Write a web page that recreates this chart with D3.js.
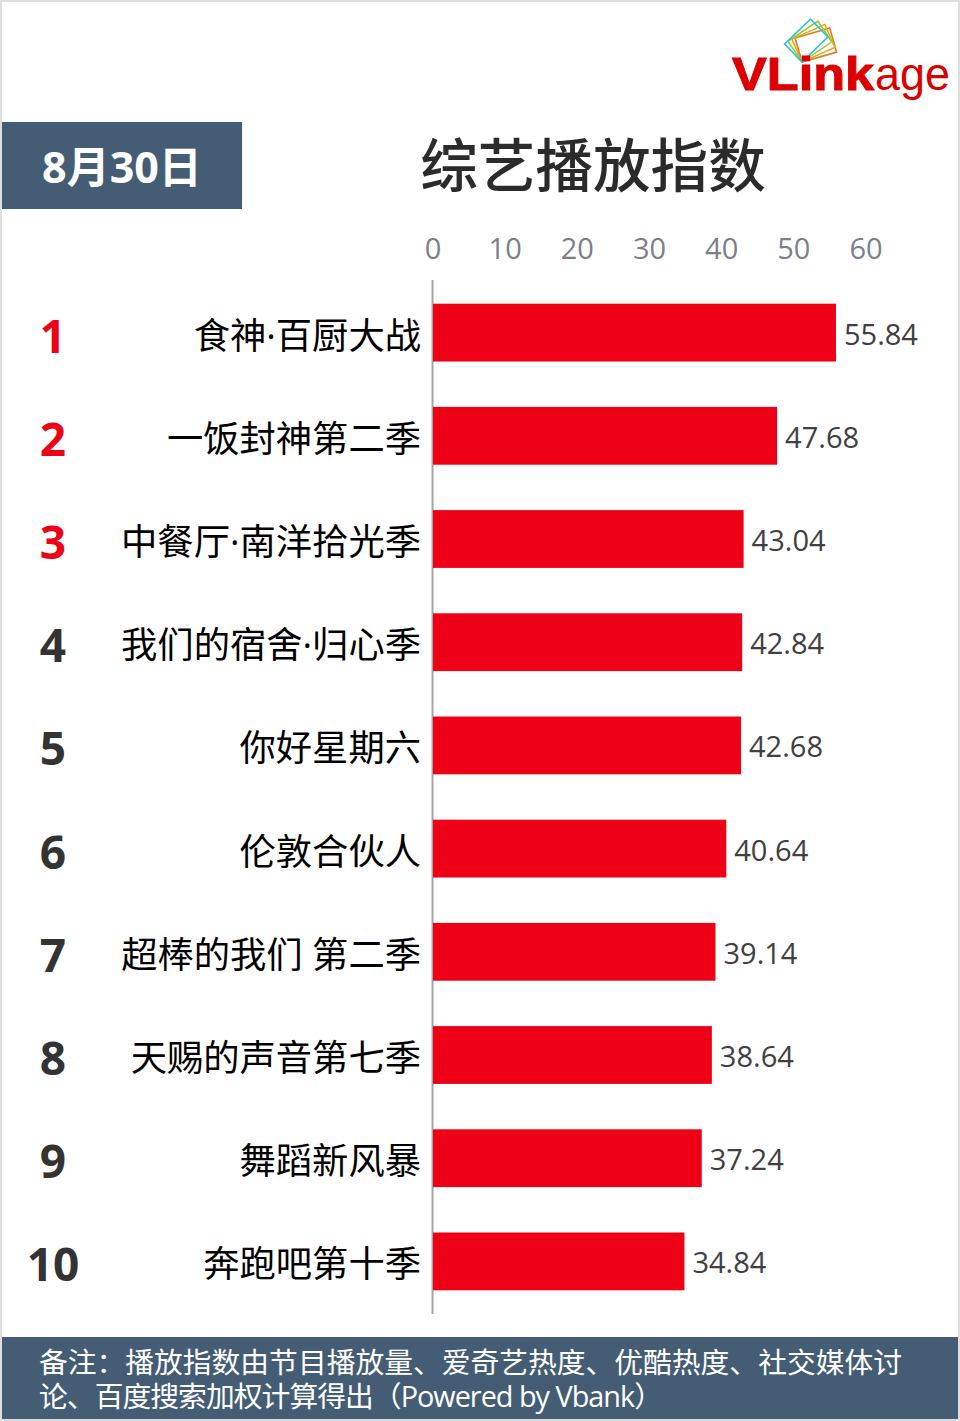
<!DOCTYPE html>
<html>
<head>
<meta charset="utf-8">
<style>
  html, body { margin: 0; padding: 0; background: #fff; }
  svg { display: block; font-family: "Open Sans", "Noto Sans CJK SC", sans-serif; }
</style>
<script src="https://cdn.jsdelivr.net/npm/d3@7"></script>
</head>
<body>
<div id="chart"></div>
<script>
// chart values
var shows = ["食神·百厨大战", "一饭封神第二季", "中餐厅·南洋拾光季", "我们的宿舍·归心季", "你好星期六", "伦敦合伙人", "超棒的我们 第二季", "天赐的声音第七季", "舞蹈新风暴", "奔跑吧第十季"];
var values = [55.84, 47.68, 43.04, 42.84, 42.68, 40.64, 39.14, 38.64, 37.24, 34.84];
var ranks = [1, 2, 3, 4, 5, 6, 7, 8, 9, 10];
var xTicks = [0, 10, 20, 30, 40, 50, 60];
var noteLines = ["备注：播放指数由节目播放量、爱奇艺热度、优酷热度、社交媒体讨", "论、百度搜索加权计算得出（Powered by Vbank）"];

var svgWidth = 960;
var svgHeight = 1421;
var slate = "#445d74";
var cjk = '"Noto Sans CJK SC", sans-serif';

var svg = d3.select("#chart")
    .append("svg")
    .attr("width", svgWidth)
    .attr("height", svgHeight);

// page frame
svg.append("rect")
    .attr("x", 1).attr("y", 1)
    .attr("width", svgWidth - 2).attr("height", svgHeight - 2)
    .attr("fill", "#fff")
    .attr("stroke", "#dedede")
    .attr("stroke-width", 2);

// scales
var x = d3.scaleLinear().domain([0, 60]).range([433, 866]);
var y = d3.scaleBand().domain(shows).range([281, 1313]).paddingInner(0.44).paddingOuter(0.22);

// value axis on top, just the labels
var topAxis = d3.axisTop(x).tickValues(xTicks).tickSize(0).tickPadding(0);
var axisG = svg.append("g")
    .attr("transform", "translate(-0.5, 259)")
    .call(topAxis);
axisG.select(".domain").remove();
axisG.selectAll("text")
    .attr("font-size", 29)
    .attr("font-family", '"Open Sans", sans-serif')
    .attr("fill", "#7b7f87");

// vertical baseline
svg.append("line")
    .attr("x1", x(0) - 0.5).attr("x2", x(0) - 0.5)
    .attr("y1", 280).attr("y2", 1314)
    .attr("stroke", "#a3a3a3")
    .attr("stroke-width", 2);

// bars
svg.selectAll(".bar")
    .data(shows)
    .enter()
    .append("rect")
    .attr("class", "bar")
    .attr("x", x(0))
    .attr("y", d => y(d))
    .attr("width", (d, i) => x(values[i]) - x(0))
    .attr("height", y.bandwidth())
    .attr("fill", "#ee0016");

// value labels
svg.selectAll(".val")
    .data(shows)
    .enter()
    .append("text")
    .attr("class", "val")
    .attr("x", (d, i) => x(values[i]) + 8)
    .attr("y", d => y(d) + y.bandwidth() / 2 + 12)
    .attr("font-size", 30)
    .attr("fill", "#404040")
    .attr("textLength", 74)
    .attr("lengthAdjust", "spacingAndGlyphs")
    .text((d, i) => values[i].toFixed(2));

// show names, latin font first so the middle dot stays narrow
svg.selectAll(".name")
    .data(shows)
    .enter()
    .append("text")
    .attr("class", "name")
    .attr("x", 421)
    .attr("y", d => y(d) + y.bandwidth() / 2 + 16)
    .attr("text-anchor", "end")
    .attr("font-size", 36.3)
    .attr("fill", "#000")
    .text(d => d);

// rank numbers
svg.selectAll(".rank")
    .data(shows)
    .enter()
    .append("text")
    .attr("class", "rank")
    .attr("x", 53)
    .attr("y", d => y(d) + y.bandwidth() / 2 + 20)
    .attr("text-anchor", "middle")
    .attr("font-size", 46)
    .attr("font-weight", 700)
    .attr("fill", (d, i) => i < 3 ? "#ee0016" : "#333")
    .text((d, i) => ranks[i]);

// date box
svg.append("rect")
    .attr("x", 2).attr("y", 122)
    .attr("width", 240).attr("height", 87)
    .attr("fill", slate);
svg.append("text")
    .attr("x", 122).attr("y", 183)
    .attr("text-anchor", "middle")
    .attr("font-size", 43)
    .attr("font-weight", 700)
    .attr("fill", "#fff")
    .text("8月30日");

// title
svg.append("text")
    .attr("x", 593).attr("y", 187)
    .attr("text-anchor", "middle")
    .attr("font-family", cjk)
    .attr("font-size", 57.6)
    .attr("font-weight", 500)
    .attr("fill", "#2b2b2b")
    .text("综艺播放指数");

// footer note
svg.append("rect")
    .attr("x", 2).attr("y", 1337)
    .attr("width", 956).attr("height", 82)
    .attr("fill", slate);
svg.selectAll(".note")
    .data(noteLines)
    .enter()
    .append("text")
    .attr("class", "note")
    .attr("x", 39)
    .attr("y", (d, i) => 1373 + i * 34)
    .attr("font-size", 28.8)
    .attr("fill", "#fff")
    .attr("textLength", (d, i) => i === 0 ? 863 : 624)
    .attr("lengthAdjust", "spacing")
    .text(d => d);

// logo cards fan out from one bottom corner
var cards = [
    { c: "#e07a1f", a: 16 },
    { c: "#e0a81f", a: 24 },
    { c: "#9ccb2a", a: 34 },
    { c: "#2cc3dc", a: 44 }
];
svg.append("g")
    .attr("transform", "translate(802, 62)")
    .selectAll("rect")
    .data(cards)
    .enter()
    .append("rect")
    .attr("x", 0).attr("y", -25)
    .attr("width", 36).attr("height", 25)
    .attr("fill", "none")
    .attr("stroke", d => d.c)
    .attr("stroke-width", 1.6)
    .attr("transform", d => `rotate(${-d.a})`);
svg.append("text")
    .attr("x", 732).attr("y", 90)
    .attr("font-family", '"Liberation Sans", sans-serif')
    .attr("font-size", 46)
    .attr("font-weight", 700)
    .attr("fill", "#dd0000")
    .attr("stroke", "#dd0000")
    .attr("stroke-width", 1)
    .attr("textLength", 142)
    .attr("lengthAdjust", "spacingAndGlyphs")
    .text("VLink");
svg.append("text")
    .attr("x", 875).attr("y", 90)
    .attr("font-family", '"Liberation Sans", sans-serif')
    .attr("font-size", 46)
    .attr("fill", "#dd0000")
    .attr("textLength", 75)
    .attr("lengthAdjust", "spacingAndGlyphs")
    .text("age");
</script>
</body>
</html>
